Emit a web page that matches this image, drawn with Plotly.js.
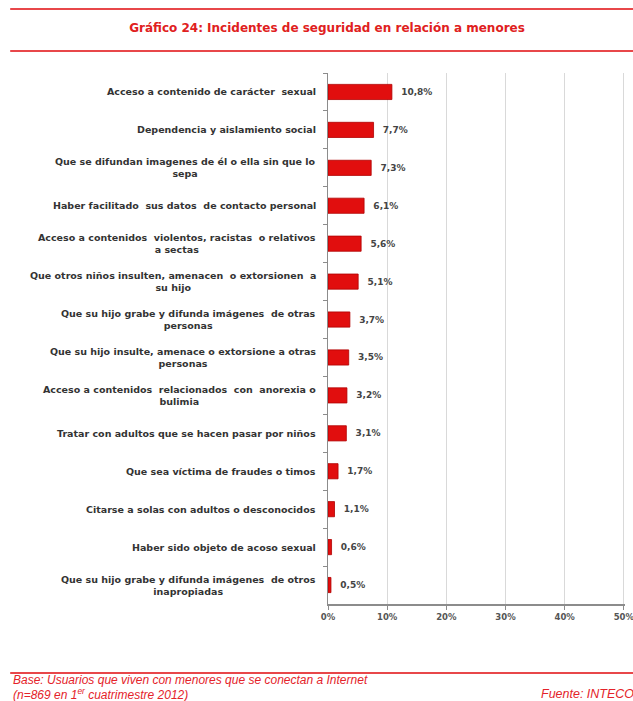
<!DOCTYPE html>
<html>
<head>
<meta charset="utf-8">
<script src="https://cdn.plot.ly/plotly-3.0.1.min.js"></script>
<style>html,body{margin:0;padding:0;background:#fff;}#chart{width:633px;height:701px;}</style>
</head>
<body>
<div id="chart"></div>
<script>
const categories = [
  "Acceso a contenido de carácter  sexual",
  "Dependencia y aislamiento social",
  "Que se difundan imagenes de él o ella sin que lo<br>sepa",
  "Haber facilitado  sus datos  de contacto personal",
  "Acceso a contenidos  violentos, racistas  o relativos<br>a sectas",
  "Que otros niños insulten, amenacen  o extorsionen  a<br>su hijo",
  "Que su hijo grabe y difunda imágenes  de otras<br>personas",
  "Que su hijo insulte, amenace o extorsione a otras<br>personas",
  "Acceso a contenidos  relacionados  con  anorexia o<br>bulimia",
  "Tratar con adultos que se hacen pasar por niños",
  "Que sea víctima de fraudes o timos",
  "Citarse a solas con adultos o desconocidos",
  "Haber sido objeto de acoso sexual",
  "Que su hijo grabe y difunda imágenes  de otros<br>inapropiadas"
];
const values = [10.8, 7.7, 7.3, 6.1, 5.6, 5.1, 3.7, 3.5, 3.2, 3.1, 1.7, 1.1, 0.6, 0.5];
const tickValues = [0, 10, 20, 30, 40, 50];
const tickLabels = ["0%", "10%", "20%", "30%", "40%", "50%"];
const titleText = "Gráfico 24: Incidentes de seguridad en relación a menores";
const baseLines = [
  "Base: Usuarios que viven con menores que se conectan a Internet",
  "(n=869 en 1<sup>er</sup> cuatrimestre 2012)"
];
const sourceText = "Fuente: INTECO";

const ids = categories.map((c, i) => "c" + i);
const valueLabels = values.map(v => "\u00a0\u00a0" + v.toFixed(1).replace(".", ",") + "%");

const font = "DejaVu Sans, Verdana, sans-serif";
const footFont = "Liberation Sans, Arial, sans-serif";
const red = "#e4232a";

// plot area: 0% at x=328, 50% at x=624 (5.92 px per unit); range slightly past 50 so its gridline shows
const pxPerUnit = 5.92;
const xMax = 50.2;
const plotW = pxPerUnit * xMax;
const px2x = px => (px - 328) / plotW;
const py2y = py => (604 - py) / 531;

const trace = {
  type: "bar",
  orientation: "h",
  y: ids,
  x: values,
  width: 0.4,
  marker: {color: "#e10e0e", line: {color: "#b00000", width: 0.8}},
  text: valueLabels,
  textposition: "outside",
  cliponaxis: false,
  textfont: {family: font, size: 9, color: "#444", weight: "bold"},
  hoverinfo: "skip"
};

const annotations = categories.map((c, i) => ({
  xref: "paper", yref: "y", x: 0, y: ids[i], xshift: -10,
  xanchor: "right", yanchor: "middle", align: "center",
  text: c, showarrow: false,
  font: {family: font, size: 9.5, color: "#333", weight: "bold"}
}));
const footY = [680, 694];
baseLines.forEach((t, i) => annotations.push({
  xref: "paper", yref: "paper", x: px2x(11), y: py2y(footY[i]),
  xanchor: "left", yanchor: "middle", align: "left", showarrow: false,
  text: t,
  font: {family: footFont, size: 12, color: red, style: "italic"}
}));
annotations.push({
  xref: "paper", yref: "paper", x: px2x(539), y: py2y(694),
  xanchor: "left", yanchor: "middle", align: "left", showarrow: false,
  text: sourceText,
  font: {family: footFont, size: 12.5, color: red, style: "italic"}
});

const lineY = [9, 51, 673];
const shapes = lineY.map(py => ({
  type: "line", xref: "paper", yref: "paper",
  x0: px2x(10), x1: px2x(640),
  y0: py2y(py), y1: py2y(py),
  line: {color: "#e8474a", width: 2}
}));

const layout = {
  width: 633, height: 701,
  margin: {l: 328, r: 633 - 328 - plotW, t: 73, b: 97},
  paper_bgcolor: "#fff", plot_bgcolor: "#fff",
  showlegend: false,
  title: {
    text: titleText,
    x: 327 / 633, xanchor: "center", xref: "container",
    y: 1 - 28 / 701, yanchor: "middle", yref: "container",
    font: {family: font, size: 12, color: "#e02020", weight: "bold"}
  },
  xaxis: {
    range: [0, xMax], tickvals: tickValues, ticktext: tickLabels,
    showgrid: true, gridcolor: "#d9d9d9", gridwidth: 1,
    showline: true, linecolor: "#8c8c8c", linewidth: 1.5,
    ticks: "outside", ticklen: 4, tickcolor: "#8c8c8c",
    ticklabeloverflow: "allow",
    zeroline: false, fixedrange: true,
    tickfont: {family: font, size: 8.5, color: "#555", weight: "bold"}
  },
  yaxis: {
    type: "category", autorange: "reversed",
    showticklabels: false, tickson: "boundaries",
    ticks: "outside", ticklen: 4, tickcolor: "#8c8c8c",
    showline: true, linecolor: "#8c8c8c", linewidth: 1.5,
    showgrid: false, zeroline: false, fixedrange: true
  },
  annotations: annotations,
  shapes: shapes
};

Plotly.newPlot("chart", [trace], layout, {displayModeBar: false, staticPlot: true});
</script>
</body>
</html>
